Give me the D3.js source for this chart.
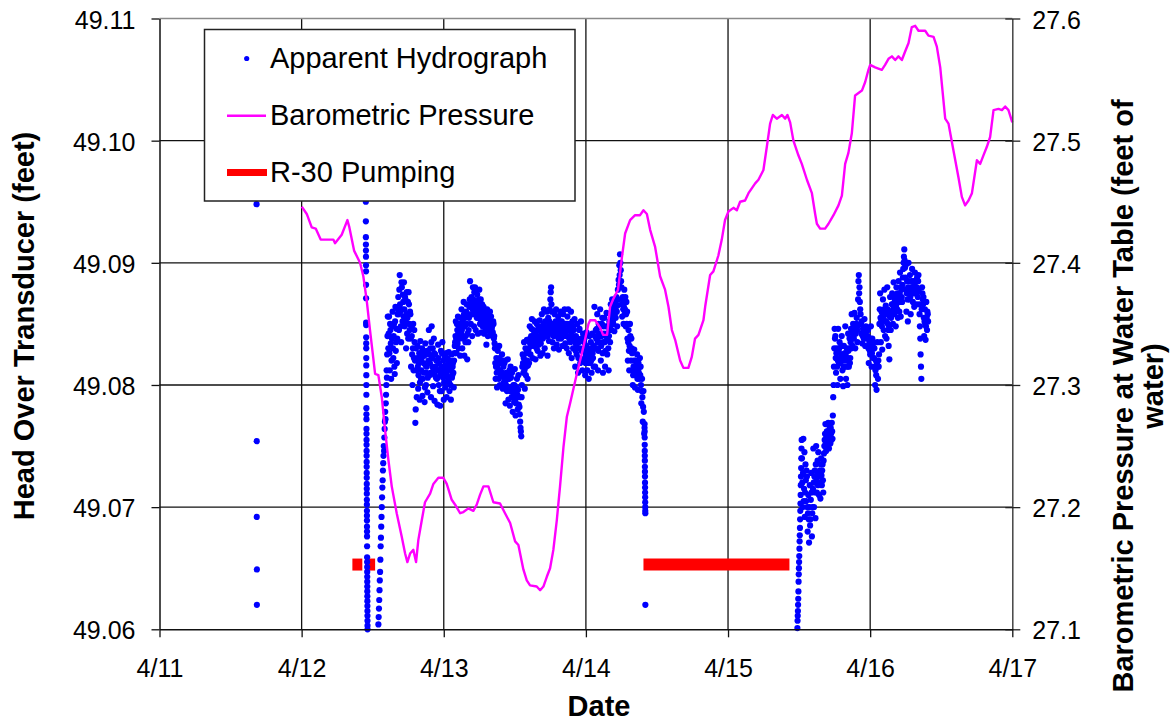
<!DOCTYPE html>
<html>
<head>
<meta charset="utf-8">
<script src="https://cdn.jsdelivr.net/npm/d3@7"></script>
<style>
  html, body { margin: 0; padding: 0; background: #fff; }
  svg { display: block; font-family: "Liberation Sans", Arial, Helvetica, sans-serif; }
</style>
</head>
<body>
<svg id="chart" width="1172" height="723"></svg>
<script>
// ---- axis ticks (time is decimal day of April) ----
const dayTicks = [11, 12, 13, 14, 15, 16, 17];
const dayTickLabels = ["4/11", "4/12", "4/13", "4/14", "4/15", "4/16", "4/17"];
const headTicks = [49.06, 49.07, 49.08, 49.09, 49.10, 49.11];
const headTickLabels = ["49.06", "49.07", "49.08", "49.09", "49.10", "49.11"];
const baroTicks = [27.1, 27.2, 27.3, 27.4, 27.5, 27.6];
const baroTickLabels = ["27.1", "27.2", "27.3", "27.4", "27.5", "27.6"];

// ---- apparent hydrograph (feet of head over transducer) ----
// isolated early readings
const earlyTimes = [11.683, 11.684, 11.684, 11.685, 11.685];
const earlyHeads = [49.0948, 49.0754, 49.0692, 49.0649, 49.0620];

// fast logging at pump start, 4/12
const drop1Start = 12.4515, drop1Step = 0.0002;
const drop1Heads = [
  49.0955, 49.0950, 49.0934, 49.0921, 49.0915, 49.0910, 49.0905, 49.0898, 49.0893, 49.0882,
  49.0871, 49.0851, 49.0849, 49.0839, 49.0834, 49.0830, 49.0822, 49.0816, 49.0808, 49.0800,
  49.0792, 49.0781, 49.0776, 49.0772, 49.0764, 49.0760, 49.0755, 49.0751, 49.0746, 49.0742,
  49.0737, 49.0733, 49.0728, 49.0724, 49.0719, 49.0715, 49.0711, 49.0706, 49.0702, 49.0697,
  49.0693, 49.0689, 49.0684, 49.0680, 49.0676, 49.0668, 49.0659, 49.0655, 49.0651, 49.0647,
  49.0643, 49.0639, 49.0635, 49.0631, 49.0627, 49.0623, 49.0619, 49.0615, 49.0611, 49.0607,
  49.0603, 49.0600
];

// fast logging during recovery, 4/12
const rise1Start = 12.540, rise1Step = 0.002;
const rise1Heads = [
  49.0604, 49.0610, 49.0617, 49.0624, 49.0632, 49.0640, 49.0647, 49.0657, 49.0668, 49.0675,
  49.0684, 49.0692, 49.0700, 49.0708, 49.0716, 49.0722, 49.0730, 49.0736, 49.0742, 49.0750,
  49.0746, 49.0757, 49.0764, 49.0770, 49.0778, 49.0772, 49.0785, 49.0792, 49.0800, 49.0812,
  49.0806, 49.0825, 49.0840, 49.0856
];

// regular logging, 4/12 to 4/14 (readings on the interval)
const band1Start = 12.610, band1Step = 0.005;
const band1Heads = [
  49.0830, 49.0856, 49.0812, 49.0845, 49.0805, 49.0838, 49.0860, 49.0822, 49.0850, 49.0809, 49.0864, 49.0835, 49.0818, 49.0858,
  49.0872, 49.0845, 49.0890, 49.0860, 49.0835, 49.0880, 49.0852, 49.0868,
  49.0884, 49.0848, 49.0870, 49.0830, 49.0876, 49.0855, 49.0838, 49.0866, 49.0845,
  49.0858, 49.0815, 49.0840, 49.0800, 49.0850, 49.0822, 49.0835,
  49.0769, 49.0830, 49.0790,
  49.0832, 49.0797, 49.0818, 49.0788, 49.0836, 49.0805, 49.0822, 49.0791, 49.0828, 49.0810, 49.0786, 49.0834, 49.0800, 49.0815, 49.0794, 49.0826,
  49.0845, 49.0808, 49.0830, 49.0790, 49.0848, 49.0815, 49.0799, 49.0838, 49.0787, 49.0825, 49.0806,
  49.0820, 49.0784, 49.0833, 49.0800, 49.0812, 49.0783, 49.0828, 49.0795, 49.0835, 49.0806, 49.0788, 49.0824, 49.0798, 49.0816,
  49.0790, 49.0822, 49.0805, 49.0827, 49.0795, 49.0815, 49.0788, 49.0825, 49.0808, 49.0818, 49.0798, 49.0826,
  49.0835, 49.0852, 49.0826, 49.0845, 49.0856, 49.0830, 49.0848, 49.0824, 49.0855,
  49.0862, 49.0830, 49.0850, 49.0868, 49.0824, 49.0855, 49.0840, 49.0866, 49.0821, 49.0858, 49.0845, 49.0864,
  49.0885, 49.0850, 49.0872, 49.0840, 49.0880, 49.0858, 49.0876,
  49.0880, 49.0845, 49.0868, 49.0874, 49.0842, 49.0862, 49.0878, 49.0850, 49.0870, 49.0843, 49.0866, 49.0856,
  49.0864, 49.0842, 49.0858, 49.0847, 49.0833, 49.0862, 49.0840, 49.0855, 49.0845, 49.0860, 49.0841, 49.0852, 49.0848, 49.0843, 49.0850, 49.0840,
  49.0830, 49.0805, 49.0822, 49.0798, 49.0828, 49.0812, 49.0832, 49.0800, 49.0818, 49.0808, 49.0825, 49.0797, 49.0815, 49.0806,
  49.0820, 49.0785, 49.0810, 49.0795, 49.0821, 49.0788, 49.0805, 49.0783, 49.0815, 49.0798,
  49.0810, 49.0778, 49.0800, 49.0786, 49.0813, 49.0775, 49.0795, 49.0805, 49.0780, 49.0808, 49.0790, 49.0776, 49.0765, 49.0758,
  49.0800, 49.0825, 49.0810, 49.0835, 49.0797, 49.0830, 49.0815, 49.0837, 49.0805, 49.0828, 49.0818,
  49.0848, 49.0825, 49.0840, 49.0854, 49.0822, 49.0845, 49.0832, 49.0852, 49.0821, 49.0838, 49.0850, 49.0828, 49.0846, 49.0835, 49.0853, 49.0824, 49.0842,
  49.0858, 49.0826, 49.0848, 49.0862, 49.0830, 49.0852, 49.0840, 49.0860, 49.0824, 49.0855, 49.0836, 49.0862, 49.0870, 49.0880,
  49.0860, 49.0835, 49.0850, 49.0830, 49.0858, 49.0842, 49.0862, 49.0833, 49.0848, 49.0856, 49.0829, 49.0845, 49.0860, 49.0838, 49.0852, 49.0832, 49.0858, 49.0840, 49.0862, 49.0834, 49.0850, 49.0830, 49.0856,
  49.0862, 49.0826, 49.0848, 49.0835, 49.0860, 49.0822, 49.0852, 49.0830, 49.0845,
  49.0854, 49.0815, 49.0840, 49.0825, 49.0850, 49.0810, 49.0835, 49.0846, 49.0818, 49.0852, 49.0828, 49.0812, 49.0842, 49.0820,
  49.0838, 49.0808, 49.0825, 49.0843, 49.0812, 49.0830, 49.0805, 49.0840, 49.0818, 49.0835, 49.0810, 49.0842, 49.0822, 49.0815,
  49.0864, 49.0815, 49.0845, 49.0830, 49.0858, 49.0812, 49.0850, 49.0835, 49.0862, 49.0820, 49.0840, 49.0855, 49.0810, 49.0848,
  49.0855, 49.0815, 49.0840, 49.0859, 49.0825, 49.0848, 49.0812, 49.0852, 49.0835,
  49.0866, 49.0845, 49.0870, 49.0852, 49.0860, 49.0844, 49.0868, 49.0855, 49.0872, 49.0848, 49.0878, 49.0886, 49.0898, 49.0907,
  49.0894, 49.0880, 49.0856, 49.0872, 49.0850, 49.0878, 49.0862, 49.0848, 49.0868,
  49.0860, 49.0820, 49.0845, 49.0812, 49.0850, 49.0828, 49.0838,
  49.0826, 49.0800, 49.0815, 49.0829, 49.0798, 49.0820, 49.0808, 49.0825, 49.0796, 49.0818, 49.0805, 49.0822,
  49.0815, 49.0785, 49.0805, 49.0770, 49.0795, 49.0760
];
// readings halfway between the interval readings above
const band1MidHeads = [
  49.0842, 49.0826, 49.0850, 49.0834, 49.0820, 49.0848, 49.0830, 49.0840, 49.0815, 49.0852, 49.0828, 49.0846, 49.0838, 49.0862,
  49.0858, 49.0878, 49.0866, 49.0848, 49.0884, 49.0862, 49.0874, 49.0856,
  49.0862, 49.0872, 49.0852, 49.0858, 49.0842, 49.0868, 49.0876, 49.0850, 49.0860,
  49.0838, 49.0848, 49.0825, 49.0830, 49.0812, 49.0845, 49.0820,
  49.0780, 49.0812, 49.0822,
  49.0815, 49.0808, 49.0826, 49.0802, 49.0820, 49.0812, 49.0830, 49.0805, 49.0818, 49.0824, 49.0798, 49.0816, 49.0810, 49.0828, 49.0806, 49.0820,
  49.0825, 49.0818, 49.0810, 49.0835, 49.0822, 49.0830, 49.0812, 49.0826, 49.0808, 49.0815, 49.0820,
  49.0805, 49.0812, 49.0822, 49.0818, 49.0795, 49.0808, 49.0815, 49.0826, 49.0810, 49.0820, 49.0802, 49.0812, 49.0808, 49.0826,
  49.0808, 49.0812, 49.0818, 49.0802, 49.0820, 49.0800, 49.0812, 49.0806, 49.0815, 49.0810, 49.0820, 49.0832,
  49.0840, 49.0838, 49.0850, 49.0834, 49.0842, 49.0846, 49.0838, 49.0850, 49.0842,
  49.0845, 49.0852, 49.0838, 49.0858, 49.0848, 49.0835, 49.0860, 49.0850, 49.0842, 49.0835, 49.0855, 49.0870,
  49.0865, 49.0868, 49.0858, 49.0862, 49.0870, 49.0848, 49.0866,
  49.0862, 49.0858, 49.0855, 49.0865, 49.0855, 49.0870, 49.0860, 49.0866, 49.0852, 49.0858, 49.0848, 49.0862,
  49.0852, 49.0850, 49.0846, 49.0855, 49.0845, 49.0850, 49.0858, 49.0848, 49.0852, 49.0848, 49.0856, 49.0846, 49.0840, 49.0852, 49.0838, 49.0834,
  49.0818, 49.0815, 49.0810, 49.0815, 49.0820, 49.0805, 49.0822, 49.0812, 49.0808, 49.0820, 49.0810, 49.0808, 49.0802, 49.0818,
  49.0802, 49.0800, 49.0796, 49.0808, 49.0805, 49.0798, 49.0812, 49.0795, 49.0806, 49.0790,
  49.0795, 49.0790, 49.0792, 49.0800, 49.0788, 49.0785, 49.0798, 49.0792, 49.0796, 49.0784, 49.0782, 49.0770, 49.0762, 49.0790,
  49.0815, 49.0818, 49.0822, 49.0812, 49.0820, 49.0808, 49.0826, 49.0820, 49.0816, 49.0830, 49.0835,
  49.0838, 49.0832, 49.0846, 49.0838, 49.0835, 49.0840, 49.0842, 49.0836, 49.0844, 49.0830, 49.0840, 49.0838, 49.0833, 49.0845, 49.0838, 49.0834, 49.0848,
  49.0842, 49.0838, 49.0850, 49.0845, 49.0840, 49.0846, 49.0852, 49.0842, 49.0840, 49.0848, 49.0852, 49.0845, 49.0876, 49.0866,
  49.0848, 49.0842, 49.0840, 49.0846, 49.0845, 49.0852, 49.0848, 49.0840, 49.0842, 49.0838, 49.0845, 49.0852, 49.0846, 49.0848, 49.0842, 49.0845, 49.0846, 49.0850, 49.0845, 49.0842, 49.0840, 49.0845, 49.0850,
  49.0845, 49.0838, 49.0840, 49.0850, 49.0842, 49.0838, 49.0840, 49.0848, 49.0836,
  49.0835, 49.0828, 49.0832, 49.0838, 49.0830, 49.0822, 49.0845, 49.0830, 49.0836, 49.0838, 49.0820, 49.0828, 49.0830, 49.0835,
  49.0822, 49.0818, 49.0832, 49.0828, 49.0822, 49.0818, 49.0825, 49.0828, 49.0825, 49.0820, 49.0830, 49.0826, 49.0832, 49.0830,
  49.0840, 49.0830, 49.0838, 49.0846, 49.0835, 49.0828, 49.0842, 49.0848, 49.0840, 49.0832, 49.0850, 49.0826, 49.0835, 49.0842,
  49.0835, 49.0828, 49.0848, 49.0842, 49.0838, 49.0830, 49.0840, 49.0845, 49.0848,
  49.0855, 49.0858, 49.0862, 49.0850, 49.0864, 49.0858, 49.0862, 49.0866, 49.0860, 49.0865, 49.0870, 49.0882, 49.0890, 49.0900,
  49.0885, 49.0866, 49.0870, 49.0862, 49.0864, 49.0858, 49.0872, 49.0858, 49.0850,
  49.0838, 49.0835, 49.0828, 49.0832, 49.0840, 49.0820, 49.0830,
  49.0812, 49.0808, 49.0820, 49.0815, 49.0810, 49.0812, 49.0818, 49.0805, 49.0812, 49.0810, 49.0815, 49.0808,
  49.0800, 49.0795, 49.0790, 49.0782, 49.0778, 49.0765
];

// fast logging at pump start, 4/14
const drop2Start = 14.413, drop2Step = 0.0003;
const drop2Heads = [
  49.0768, 49.0762, 49.0757, 49.0751, 49.0746, 49.0742, 49.0738, 49.0733, 49.0729, 49.0725,
  49.0720, 49.0716, 49.0712, 49.0708, 49.0704, 49.0700, 49.0697, 49.0695, 49.0620
];

// fast logging during recovery, 4/15
const rise2Start = 15.488, rise2Step = 0.0012;
const rise2Heads = [
  49.0601, 49.0607, 49.0611, 49.0615, 49.0620, 49.0625, 49.0631, 49.0639, 49.0645, 49.0650,
  49.0655, 49.0660, 49.0666, 49.0672, 49.0677, 49.0683, 49.0690, 49.0697, 49.0703, 49.0710,
  49.0718, 49.0725, 49.0732, 49.0740, 49.0748, 49.0755
];

// regular logging, 4/15 to 4/16 (readings on the interval)
const band2Start = 15.520, band2Step = 0.005;
const band2Heads = [
  49.0740, 49.0700, 49.0756, 49.0715, 49.0692, 49.0735, 49.0705,
  49.0725, 49.0680, 49.0710, 49.0671, 49.0718, 49.0690, 49.0728, 49.0676, 49.0700,
  49.0748, 49.0700, 49.0730, 49.0691, 49.0750, 49.0712, 49.0738,
  49.0745, 49.0710, 49.0730, 49.0707, 49.0740, 49.0718, 49.0735, 49.0712, 49.0744,
  49.0755, 49.0768, 49.0746, 49.0762, 49.0750, 49.0769, 49.0748, 49.0765, 49.0752, 49.0760, 49.0769, 49.0756,
  49.0790, 49.0815, 49.0846,
  49.0840, 49.0810, 49.0830, 49.0800, 49.0846, 49.0818, 49.0835, 49.0805, 49.0825, 49.0840, 49.0812, 49.0799, 49.0832, 49.0815,
  49.0848, 49.0805, 49.0830, 49.0800, 49.0842, 49.0815, 49.0838, 49.0822, 49.0846,
  49.0858, 49.0832, 49.0850, 49.0838, 49.0859, 49.0830, 49.0845, 49.0855, 49.0835,
  49.0870, 49.0890, 49.0880, 49.0862, 49.0850,
  49.0852, 49.0834, 49.0846, 49.0838, 49.0854, 49.0832, 49.0848, 49.0840, 49.0845,
  49.0845, 49.0818, 49.0835, 49.0825, 49.0848, 49.0815, 49.0838, 49.0822, 49.0830,
  49.0830, 49.0800, 49.0820, 49.0796, 49.0835, 49.0805, 49.0815,
  49.0850, 49.0875, 49.0835, 49.0860, 49.0829, 49.0870, 49.0845, 49.0878, 49.0840,
  49.0865, 49.0838, 49.0880, 49.0850, 49.0832, 49.0821, 49.0872, 49.0845, 49.0860,
  49.0875, 49.0850, 49.0884, 49.0858, 49.0870, 49.0848, 49.0880, 49.0862, 49.0855,
  49.0885, 49.0860, 49.0892, 49.0856, 49.0878, 49.0868, 49.0888,
  49.0900, 49.0911, 49.0896,
  49.0898, 49.0860, 49.0885, 49.0852, 49.0900, 49.0870, 49.0890, 49.0858, 49.0880,
  49.0895, 49.0868, 49.0885, 49.0864, 49.0892, 49.0875, 49.0866, 49.0888, 49.0872,
  49.0890, 49.0866, 49.0848, 49.0825, 49.0805, 49.0880, 49.0870,
  49.0872, 49.0840, 49.0862, 49.0837, 49.0868, 49.0845, 49.0858
];
// readings halfway between the interval readings above
const band2MidHeads = [
  49.0720, 49.0728, 49.0705, 49.0745, 49.0712, 49.0722, 49.0730,
  49.0700, 49.0695, 49.0690, 49.0700, 49.0685, 49.0706, 49.0712, 49.0695, 49.0715,
  49.0720, 49.0725, 49.0712, 49.0735, 49.0722, 49.0728, 49.0718,
  49.0725, 49.0728, 49.0720, 49.0735, 49.0726, 49.0730, 49.0722, 49.0738, 49.0750,
  49.0760, 49.0752, 49.0758, 49.0755, 49.0762, 49.0758, 49.0756, 49.0760, 49.0765, 49.0755, 49.0762, 49.0775,
  49.0800, 49.0830, 49.0838,
  49.0822, 49.0826, 49.0815, 49.0820, 49.0828, 49.0830, 49.0818, 49.0822, 49.0832, 49.0825, 49.0820, 49.0815, 49.0822, 49.0826,
  49.0825, 49.0820, 49.0815, 49.0822, 49.0828, 49.0830, 49.0818, 49.0835, 49.0830,
  49.0845, 49.0842, 49.0840, 49.0848, 49.0845, 49.0842, 49.0850, 49.0845, 49.0848,
  49.0885, 49.0875, 49.0868, 49.0858, 49.0842,
  49.0842, 49.0840, 49.0844, 49.0845, 49.0840, 49.0842, 49.0838, 49.0846, 49.0840,
  49.0830, 49.0832, 49.0828, 49.0838, 49.0830, 49.0826, 49.0832, 49.0835, 49.0822,
  49.0815, 49.0812, 49.0808, 49.0818, 49.0815, 49.0820, 49.0825,
  49.0862, 49.0855, 49.0852, 49.0848, 49.0858, 49.0855, 49.0862, 49.0858, 49.0852,
  49.0852, 49.0858, 49.0862, 49.0845, 49.0848, 49.0856, 49.0860, 49.0855, 49.0866,
  49.0866, 49.0862, 49.0872, 49.0868, 49.0860, 49.0865, 49.0870, 49.0875, 49.0868,
  49.0872, 49.0875, 49.0868, 49.0880, 49.0872, 49.0882, 49.0895,
  49.0905, 49.0902, 49.0888,
  49.0878, 49.0875, 49.0870, 49.0880, 49.0885, 49.0878, 49.0872, 49.0875, 49.0885,
  49.0880, 49.0878, 49.0875, 49.0882, 49.0878, 49.0885, 49.0880, 49.0876, 49.0885,
  49.0878, 49.0858, 49.0838, 49.0815, 49.0862, 49.0875, 49.0866,
  49.0855, 49.0852, 49.0850, 49.0848, 49.0855, 49.0860, 49.0852
];

// ---- barometric pressure at water table (feet of water) ----
const baroTimes = [
  12.001,12.036,12.071,12.099,12.134,12.223,12.235,12.282,12.322,12.336,
  12.369,12.411,12.434,12.458,12.481,12.500,12.517,12.540,12.564,12.587,
  12.610,12.634,12.669,12.704,12.728,12.744,12.763,12.786,12.805,12.821,
  12.845,12.868,12.904,12.927,12.962,12.997,13.021,13.056,13.080,13.115,
  13.138,13.173,13.208,13.232,13.255,13.279,13.314,13.349,13.396,13.431,
  13.467,13.502,13.525,13.560,13.584,13.607,13.654,13.678,13.701,13.725,
  13.748,13.771,13.795,13.818,13.842,13.866,13.889,13.936,13.982,14.018,
  14.030,14.065,14.100,14.121,14.149,14.170,14.191,14.226,14.254,14.276,
  14.311,14.346,14.381,14.405,14.429,14.452,14.487,14.522,14.557,14.581,
  14.605,14.628,14.663,14.686,14.721,14.745,14.768,14.792,14.827,14.839,
  14.874,14.897,14.932,14.956,14.979,15.003,15.038,15.062,15.085,15.120,
  15.144,15.167,15.191,15.214,15.249,15.273,15.296,15.315,15.343,15.379,
  15.402,15.418,15.437,15.460,15.495,15.519,15.555,15.590,15.613,15.625,
  15.648,15.683,15.707,15.742,15.777,15.801,15.824,15.847,15.871,15.894,
  15.918,15.942,15.965,15.988,16.000,16.035,16.058,16.082,16.105,16.129,
  16.153,16.176,16.199,16.223,16.246,16.270,16.293,16.317,16.340,16.387,
  16.410,16.446,16.469,16.493,16.528,16.551,16.586,16.621,16.645,16.668,
  16.692,16.716,16.751,16.774,16.797,16.821,16.844,16.868,16.903,16.927,
  16.950,16.973,17.000
];
const baroPressure = [
  27.446,27.440,27.429,27.428,27.419,27.419,27.416,27.423,27.435,27.429,
  27.410,27.400,27.389,27.369,27.345,27.326,27.309,27.308,27.290,27.263,
  27.239,27.217,27.195,27.176,27.162,27.155,27.162,27.165,27.155,27.173,
  27.189,27.204,27.211,27.219,27.224,27.224,27.219,27.206,27.202,27.195,
  27.196,27.199,27.197,27.202,27.210,27.217,27.217,27.204,27.203,27.195,
  27.187,27.172,27.169,27.149,27.140,27.136,27.135,27.132,27.135,27.143,
  27.150,27.165,27.189,27.217,27.249,27.274,27.285,27.309,27.331,27.350,
  27.353,27.353,27.347,27.341,27.341,27.364,27.370,27.378,27.405,27.424,
  27.435,27.439,27.439,27.443,27.440,27.427,27.413,27.389,27.378,27.364,
  27.345,27.337,27.320,27.314,27.314,27.323,27.338,27.341,27.353,27.364,
  27.390,27.393,27.406,27.419,27.435,27.442,27.445,27.443,27.450,27.451,
  27.457,27.461,27.465,27.468,27.476,27.495,27.514,27.521,27.518,27.521,
  27.518,27.521,27.515,27.500,27.488,27.481,27.468,27.457,27.440,27.432,
  27.428,27.428,27.432,27.439,27.447,27.455,27.481,27.490,27.506,27.537,
  27.539,27.541,27.548,27.558,27.562,27.560,27.559,27.558,27.562,27.567,
  27.569,27.566,27.569,27.566,27.573,27.580,27.593,27.594,27.590,27.590,
  27.586,27.585,27.577,27.560,27.518,27.514,27.492,27.470,27.454,27.447,
  27.451,27.457,27.484,27.481,27.488,27.495,27.503,27.525,27.526,27.525,
  27.528,27.525,27.515
];

// ---- R-30 pumping periods ----
const pumpStarts = [12.357, 12.446, 14.405];
const pumpEnds = [12.427, 12.517, 15.432];
const pumpLevel = 49.0653;

// ---- legend ----
const legendLabels = ["Apparent Hydrograph", "Barometric Pressure", "R-30 Pumping"];

// ---------------------------------------------------------------
const svg = d3.select("#chart");
const plot = { left: 159.5, right: 1012.3, top: 18.5, bottom: 629.3 };

const x = d3.scaleLinear().domain([11, 17]).range([plot.left, plot.right]);
const yHead = d3.scaleLinear().domain([49.06, 49.11]).range([plot.bottom, plot.top]);
const yBaro = d3.scaleLinear().domain([27.1, 27.6]).range([plot.bottom, plot.top]);

const BLUE = "#0000ff", MAGENTA = "#ff00ff", RED = "#ff0000";

// logger samples at a fixed interval
function samples(start, step, heads) {
  return heads.map((h, i) => ({ t: start + i * step, h }));
}
const hydro = [].concat(
  earlyTimes.map((t, i) => ({ t, h: earlyHeads[i] })),
  samples(drop1Start, drop1Step, drop1Heads),
  samples(rise1Start, rise1Step, rise1Heads),
  samples(band1Start, band1Step, band1Heads),
  samples(band1Start + band1Step / 2, band1Step, band1MidHeads),
  samples(drop2Start, drop2Step, drop2Heads),
  samples(rise2Start, rise2Step, rise2Heads),
  samples(band2Start, band2Step, band2Heads),
  samples(band2Start + band2Step / 2, band2Step, band2MidHeads)
);
const baro = baroTimes.map((t, i) => ({ t, p: baroPressure[i] }));
const pumping = pumpStarts.map((s, i) => ({ s, e: pumpEnds[i] }));

// gridlines
const grid = svg.append("g").attr("class", "grid");
grid.selectAll("line.v").data(dayTicks.slice(1, -1)).join("line")
  .attr("class", "v")
  .attr("x1", d => x(d)).attr("x2", d => x(d))
  .attr("y1", plot.top).attr("y2", plot.bottom)
  .attr("stroke", "#111").attr("stroke-width", 1.3);
grid.selectAll("line.h").data(headTicks.slice(1)).join("line")
  .attr("class", "h")
  .attr("x1", plot.left).attr("x2", plot.right)
  .attr("y1", d => yHead(d)).attr("y2", d => yHead(d))
  .attr("stroke", (d, i, n) => i === n.length - 1 ? "#8a8a8a" : "#111")
  .attr("stroke-width", 1.3);

// pumping periods
svg.append("g").selectAll("line").data(pumping).join("line")
  .attr("x1", d => x(d.s)).attr("x2", d => x(d.e))
  .attr("y1", yHead(pumpLevel)).attr("y2", yHead(pumpLevel))
  .attr("stroke", RED).attr("stroke-width", 12);

// hydrograph points
svg.append("g").selectAll("circle").data(hydro).join("circle")
  .attr("cx", d => x(d.t)).attr("cy", d => yHead(d.h))
  .attr("r", 3.1).attr("fill", BLUE);

// barometric pressure
svg.append("path").datum(baro)
  .attr("fill", "none").attr("stroke", MAGENTA).attr("stroke-width", 2.4)
  .attr("stroke-linejoin", "round")
  .attr("d", d3.line().x(d => x(d.t)).y(d => yBaro(d.p)));

// axes
const tickFont = "25px";
const axL = svg.append("g").attr("transform", `translate(${plot.left},0)`)
  .call(d3.axisLeft(yHead).tickValues(headTicks)
    .tickFormat((d, i) => headTickLabels[i]).tickSizeInner(8).tickSizeOuter(0).tickPadding(16));
axL.select(".domain").attr("stroke", "#111").attr("stroke-width", 1.5);
axL.selectAll(".tick line").attr("stroke", "#111").attr("stroke-width", 1.3);
axL.selectAll(".tick text").attr("font-size", tickFont).attr("fill", "#000").attr("dy", "0.38em")
  .attr("font-family", "Liberation Sans, Arial, sans-serif");

const axR = svg.append("g").attr("transform", `translate(${plot.right},0)`)
  .call(d3.axisRight(yBaro).tickValues(baroTicks)
    .tickFormat((d, i) => baroTickLabels[i]).tickSizeInner(8).tickSizeOuter(0).tickPadding(12));
axR.select(".domain").attr("stroke", "#444").attr("stroke-width", 1.5);
axR.selectAll(".tick line").attr("x1", -7).attr("stroke", "#222").attr("stroke-width", 1.3);
axR.selectAll(".tick text").attr("font-size", tickFont).attr("fill", "#000").attr("dy", "0.38em")
  .attr("font-family", "Liberation Sans, Arial, sans-serif");

const axB = svg.append("g").attr("transform", `translate(0,${plot.bottom})`)
  .call(d3.axisBottom(x).tickValues(dayTicks)
    .tickFormat((d, i) => dayTickLabels[i]).tickSizeInner(8).tickSizeOuter(0).tickPadding(22));
axB.select(".domain").attr("stroke", "#111").attr("stroke-width", 1.6);
axB.selectAll(".tick line").attr("stroke", "#111").attr("stroke-width", 1.3);
axB.selectAll(".tick text").attr("font-size", tickFont).attr("fill", "#000")
  .attr("font-family", "Liberation Sans, Arial, sans-serif");
svg.selectAll(".domain").attr("fill", "none");

// axis titles
svg.append("text").attr("transform", "translate(34,326) rotate(-90)")
  .attr("text-anchor", "middle").attr("font-size", "29px").attr("font-weight", "bold")
  .text("Head Over Transducer (feet)");
svg.append("text").attr("x", 599).attr("y", 716)
  .attr("text-anchor", "middle").attr("font-size", "29px").attr("font-weight", "bold")
  .text("Date");
svg.append("text").attr("transform", "translate(1133,396) rotate(-90)")
  .attr("text-anchor", "middle").attr("font-size", "29px").attr("font-weight", "bold")
  .text("Barometric Pressure at Water Table (feet of");
svg.append("text").attr("transform", "translate(1163,386) rotate(-90)")
  .attr("text-anchor", "middle").attr("font-size", "29px").attr("font-weight", "bold")
  .text("water)");

// legend
const lg = svg.append("g");
lg.append("rect").attr("x", 204.5).attr("y", 29.5).attr("width", 370.5).attr("height", 171.5)
  .attr("fill", "#fff").attr("stroke", "#222").attr("stroke-width", 1.5);
lg.append("circle").attr("cx", 246.7).attr("cy", 58.5).attr("r", 2.6).attr("fill", BLUE);
lg.append("line").attr("x1", 227).attr("x2", 266).attr("y1", 115.8).attr("y2", 115.8)
  .attr("stroke", MAGENTA).attr("stroke-width", 2.4);
lg.append("line").attr("x1", 227).attr("x2", 267).attr("y1", 172.5).attr("y2", 172.5)
  .attr("stroke", RED).attr("stroke-width", 7);
lg.selectAll("text").data(legendLabels).join("text")
  .attr("x", 270).attr("y", (d, i) => 68.3 + i * 56.7)
  .attr("font-size", "29px").attr("fill", "#000")
  .text(d => d);
</script>
</body>
</html>
